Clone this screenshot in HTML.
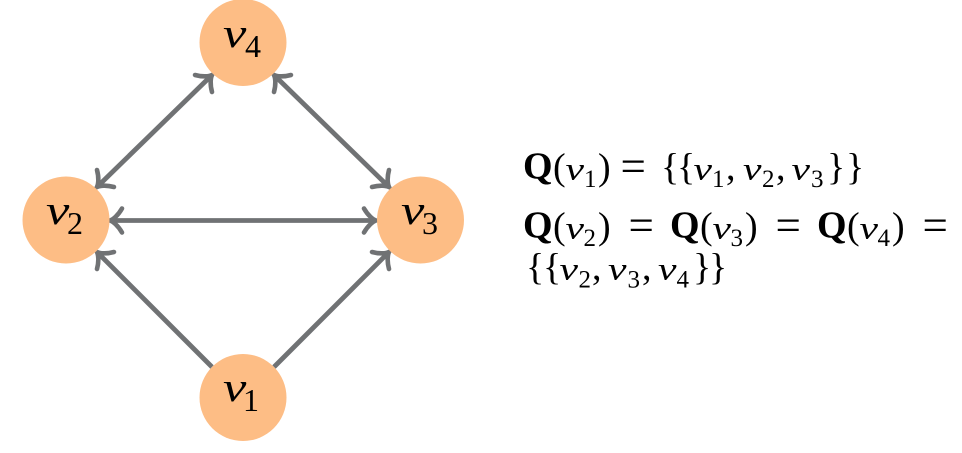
<!DOCTYPE html>
<html>
<head>
<meta charset="utf-8">
<style>
html,body{margin:0;padding:0;background:#fff}
svg{display:block}
text{font-family:"Liberation Serif",serif;fill:#000}
.b{font-weight:bold;font-size:38px}
.n{font-size:41px;font-style:italic}
.ns{font-size:32px}
.t{font-size:38px}
.v{font-size:32px;font-style:italic}
.s{font-size:25px}
.e{font-size:45px}
</style>
</head>
<body>
<svg width="962" height="453" viewBox="0 0 962 453" xmlns="http://www.w3.org/2000/svg">
<defs>
<g id="h" fill="none" stroke="#707274" stroke-width="4.6" stroke-linecap="round">
<path d="M-12,-12 C-8,-5 -3,-1 0,0 C-3,1 -8,5 -12,12"/>
</g>
</defs>
<g stroke="#707274" stroke-width="4.8" fill="none">
<line x1="212" y1="75" x2="97" y2="187"/>
<line x1="274" y1="75" x2="389" y2="187"/>
<line x1="110" y1="220.5" x2="376" y2="220.5"/>
<line x1="212" y1="367" x2="97" y2="252"/>
<line x1="274" y1="367" x2="389" y2="252"/>
</g>
<use href="#h" transform="translate(212,75) rotate(-45)"/>
<use href="#h" transform="translate(97,187) rotate(135)"/>
<use href="#h" transform="translate(274,75) rotate(-135)"/>
<use href="#h" transform="translate(389,187) rotate(45)"/>
<use href="#h" transform="translate(110,220.5) rotate(180)"/>
<use href="#h" transform="translate(376,220.5)"/>
<use href="#h" transform="translate(97,252) rotate(-135)"/>
<use href="#h" transform="translate(389,252) rotate(-45)"/>
<g fill="#fdbd85">
<circle cx="243" cy="42.5" r="43.5"/>
<circle cx="66" cy="220" r="43.5"/>
<circle cx="420.5" cy="220" r="43.5"/>
<circle cx="243" cy="397.5" r="43.5"/>
</g>
<text class="n" transform="translate(223,47) scale(1.28,1)">v</text><text class="ns" x="245" y="57">4</text>
<text class="n" transform="translate(46,224) scale(1.28,1)">v</text><text class="ns" x="67" y="234">2</text>
<text class="n" transform="translate(401,224) scale(1.28,1)">v</text><text class="ns" x="422" y="234">3</text>
<text class="n" transform="translate(223,401) scale(1.28,1)">v</text><text class="ns" x="243" y="411">1</text>

<text class="b" x="523" y="178.5">Q</text><text class="t" x="553" y="179.5">(</text><text class="v" transform="translate(565.5,179.5) scale(1.3,1)">v</text><text class="s" x="584" y="187">1</text><text class="t" x="598" y="179.5">)</text><text class="e" x="620.5" y="181.5">=</text><text class="t" x="661" y="179.5">{</text><text class="t" x="677" y="179.5">{</text><text class="v" transform="translate(693.5,179.5) scale(1.3,1)">v</text><text class="s" x="712" y="187">1</text><text class="t" x="726" y="179.5">,</text><text class="v" transform="translate(743,179.5) scale(1.3,1)">v</text><text class="s" x="762" y="187">2</text><text class="t" x="776" y="179.5">,</text><text class="v" transform="translate(791.5,179.5) scale(1.3,1)">v</text><text class="s" x="811" y="187">3</text><text class="t" x="827" y="179.5">}</text><text class="t" x="846" y="179.5">}</text>

<text class="b" x="523" y="237.5">Q</text><text class="t" x="553" y="238.5">(</text><text class="v" transform="translate(565.5,238.5) scale(1.3,1)">v</text><text class="s" x="583.5" y="246">2</text><text class="t" x="598" y="238.5">)</text><text class="e" x="628.5" y="240.5">=</text><text class="b" x="670" y="237.5">Q</text><text class="t" x="700" y="238.5">(</text><text class="v" transform="translate(712.5,238.5) scale(1.3,1)">v</text><text class="s" x="730.5" y="246">3</text><text class="t" x="745" y="238.5">)</text><text class="e" x="775.5" y="240.5">=</text><text class="b" x="817" y="237.5">Q</text><text class="t" x="847" y="238.5">(</text><text class="v" transform="translate(859.5,238.5) scale(1.3,1)">v</text><text class="s" x="877.5" y="246">4</text><text class="t" x="892" y="238.5">)</text><text class="e" x="922.5" y="240.5">=</text>

<text class="t" x="526" y="279.5">{</text><text class="t" x="543" y="279.5">{</text><text class="v" transform="translate(559.5,279.5) scale(1.3,1)">v</text><text class="s" x="578.5" y="287.5">2</text><text class="t" x="592" y="279.5">,</text><text class="v" transform="translate(608,279.5) scale(1.3,1)">v</text><text class="s" x="627.5" y="287.5">3</text><text class="t" x="642" y="279.5">,</text><text class="v" transform="translate(658,279.5) scale(1.3,1)">v</text><text class="s" x="676.5" y="287.5">4</text><text class="t" x="693" y="279.5">}</text><text class="t" x="709" y="279.5">}</text>
</svg>
</body>
</html>
